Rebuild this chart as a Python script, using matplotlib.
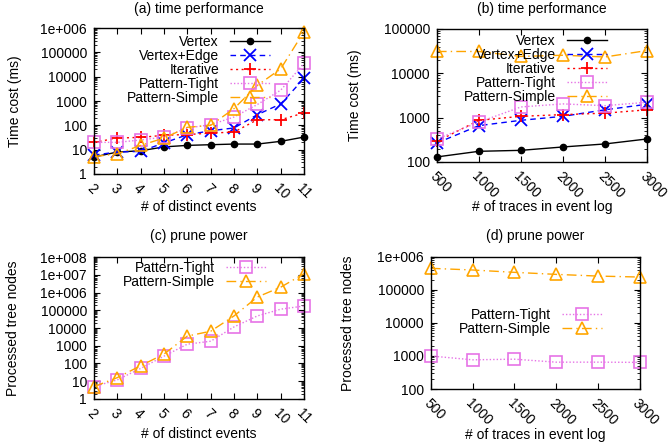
import numpy as np
import matplotlib
matplotlib.use("Agg")
import matplotlib.pyplot as plt
from matplotlib.ticker import FixedLocator, FuncFormatter, LogLocator, NullFormatter

plt.rcParams['font.family'] = ['Liberation Sans', 'DejaVu Sans']
plt.rcParams['font.size'] = 10

# data: (a)/(c) vs number of distinct events, (b)/(d) vs number of traces
events = [2, 3, 4, 5, 6, 7, 8, 9, 10, 11]
traces = [500, 1000, 1500, 2000, 2500, 3000]

a_vertex = [5, 8, 9, 13, 15, 16, 17, 17, 22, 33]
a_vertex_edge = [6, 8, 8.5, 19, 41, 60, 78, 275, 760, 8500]
a_iterative = [20, 30, 32, 39, 42, 48, 53, 170, 170, 325]
a_tight = [20, 20, 25, 33, 78, 106, 220, 720, 2800, 35000]
a_simple = [5.2, 6.7, 15, 30, 83, 100, 490, 4400, 21000, 720000]

b_vertex = [130, 174, 183, 218, 255, 330]
b_vertex_edge = [268, 660, 870, 1070, 1500, 2000]
b_iterative = [290, 870, 1070, 1170, 1260, 1500]
b_tight = [330, 790, 1740, 2040, 1860, 2220]
b_simple = [31000, 31000, 24000, 25500, 23300, 32500]

c_tight = [5, 12, 53, 260, 1230, 1800, 11500, 48000, 115000, 175000]
c_simple = [5, 16, 75, 340, 3500, 6600, 48000, 560000, 2000000, 11500000]

d_tight = [1000, 765, 800, 650, 650, 640]
d_simple = [450000, 400000, 340000, 295000, 262000, 245000]

# series styles
styles = {
    "Vertex": dict(color="black", ls="-", marker="o", ms=4.5, mfc="black"),
    "Vertex+Edge": dict(color="#0000ff", ls=(0, (4, 3)), marker="x", ms=8, mew=1.3),
    "Iterative": dict(color="#ff0000", ls=(0, (1.5, 2.5)), marker="+", ms=9, mew=1.3),
    "Pattern-Tight": dict(color="#e673e6", ls=(0, (1, 1.5)), marker="s", ms=8, mfc="none", mew=1.2),
    "Pattern-Simple": dict(color="#ffa500", ls=(0, (7, 3, 1, 3)), marker="^", ms=8.5, mfc="none", mew=1.2),
}


def log_label(v, pos):
    if v >= 1e6:
        return "1e+%03d" % int(round(np.log10(v)))
    return "%d" % int(round(v))


def setup(ax, xticks, ymin, ymax, title, xlabel, ylabel, title_y, xlab_y, ylab_x):
    ax.set_yscale("log")
    ax.set_ylim(ymin, ymax)
    ax.set_xlim(xticks[0], xticks[-1])
    ax.xaxis.set_major_locator(FixedLocator(xticks))
    ax.set_xticklabels([str(t) for t in xticks], rotation=-45, ha="left", va="top",
                       rotation_mode="anchor")
    ax.yaxis.set_major_locator(LogLocator(base=10, numticks=20))
    ax.yaxis.set_minor_locator(LogLocator(base=10, subs=np.arange(2, 10), numticks=20))
    ax.yaxis.set_major_formatter(FuncFormatter(log_label))
    ax.yaxis.set_minor_formatter(NullFormatter())
    ax.tick_params(which="both", direction="in", top=True, right=True, labelsize=10)
    ax.tick_params(which="major", length=4, width=0.8)
    ax.tick_params(which="minor", length=2, width=0.6)
    ax.tick_params(axis="x", pad=5)
    ax.tick_params(axis="y", pad=5)
    for s in ax.spines.values():
        s.set_linewidth(1.0)
    ax.text(0.5, title_y, title, transform=ax.transAxes, ha="center", va="center", fontsize=10)
    ax.set_xlabel(xlabel, fontsize=10, va="center")
    ax.set_ylabel(ylabel, fontsize=10, va="center")
    ax.xaxis.set_label_coords(0.5, xlab_y)
    ax.yaxis.set_label_coords(ylab_x, 0.5)


def draw(ax, x, series):
    for name, y in series:
        ax.plot(x, y, label=name, lw=1.0, clip_on=False, **styles[name])


fig = plt.figure(figsize=(6.69, 4.45), dpi=100)

ax_a = fig.add_axes([0.1405, 0.609, 0.314, 0.328])
draw(ax_a, events, [("Vertex", a_vertex), ("Vertex+Edge", a_vertex_edge),
                    ("Iterative", a_iterative), ("Pattern-Tight", a_tight),
                    ("Pattern-Simple", a_simple)])
setup(ax_a, events, 1, 1e6, "(a) time performance", "# of distinct events", "Time cost (ms)",
      1.130, -0.226, -0.376)

ax_b = fig.add_axes([0.653, 0.636, 0.314, 0.299])
draw(ax_b, traces, [("Vertex", b_vertex), ("Vertex+Edge", b_vertex_edge),
                    ("Iterative", b_iterative), ("Pattern-Tight", b_tight),
                    ("Pattern-Simple", b_simple)])
setup(ax_b, traces, 100, 1e5, "(b) time performance", "# of traces in event log", "Time cost (ms)",
      1.150, -0.338, -0.39)

ax_c = fig.add_axes([0.1405, 0.1034, 0.314, 0.319])
draw(ax_c, events, [("Pattern-Tight", c_tight), ("Pattern-Simple", c_simple)])
setup(ax_c, events, 1, 1e8, "(c) prune power", "# of distinct events", "Processed tree nodes",
      1.148, -0.246, -0.386)

ax_d = fig.add_axes([0.644, 0.1258, 0.312, 0.297])
draw(ax_d, traces, [("Pattern-Tight", d_tight), ("Pattern-Simple", d_simple)])
setup(ax_d, traces, 100, 1e6, "(d) prune power", "# of traces in event log", "Processed tree nodes",
      1.159, -0.348, -0.397)

leg_kw = dict(frameon=False, markerfirst=False, handlelength=2.9, labelspacing=0.0,
              handletextpad=0.8, borderpad=0, borderaxespad=0, fontsize=10, loc="upper right")
ax_a.legend(bbox_to_anchor=(0.84, 0.95), **leg_kw)
ax_b.legend(bbox_to_anchor=(0.81, 0.96), **leg_kw)
ax_c.legend(bbox_to_anchor=(0.82, 0.97), **leg_kw)
ax_d.legend(bbox_to_anchor=(0.82, 0.615), **leg_kw)

fig.savefig("out.png", dpi=100)
